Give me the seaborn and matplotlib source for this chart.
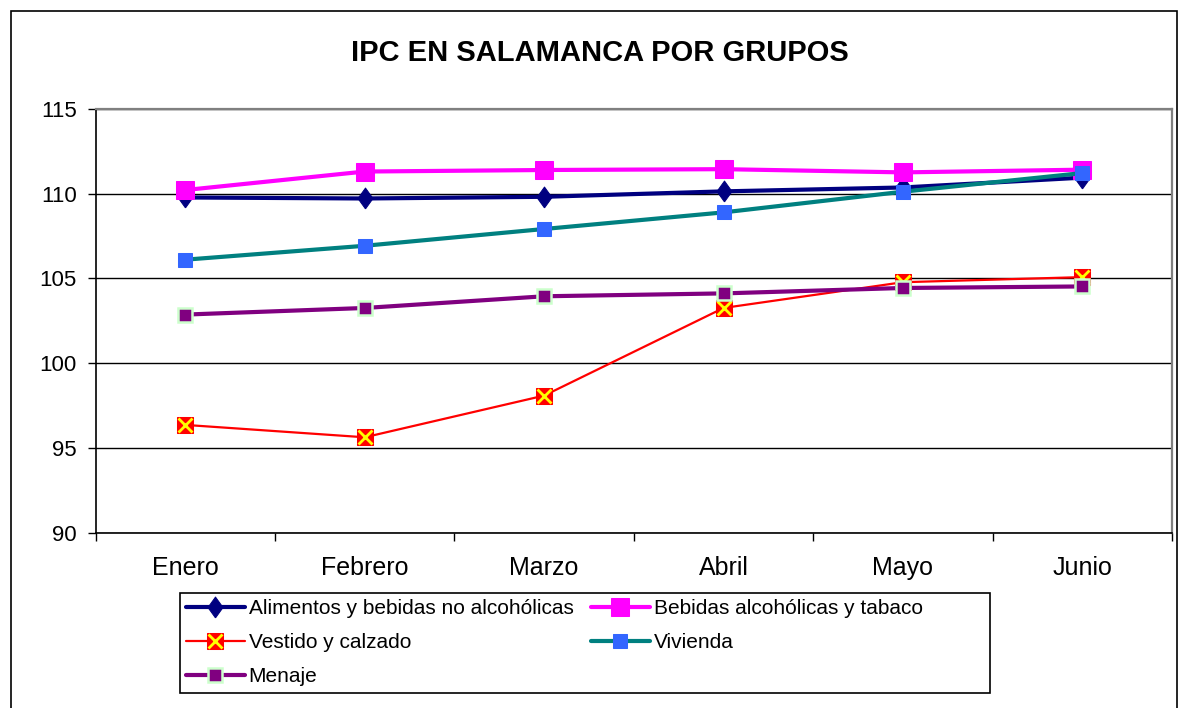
import matplotlib
matplotlib.use("Agg")
import matplotlib.pyplot as plt
import seaborn as sns
from matplotlib.patches import Rectangle
from matplotlib.legend_handler import HandlerTuple

# data
meses = ["Enero", "Febrero", "Marzo", "Abril", "Mayo", "Junio"]
alimentos = [109.78, 109.72, 109.82, 110.14, 110.37, 110.95]
bebidas = [110.22, 111.31, 111.40, 111.45, 111.26, 111.42]
vestido = [96.36, 95.63, 98.09, 103.26, 104.78, 105.08]
vivienda = [106.11, 106.93, 107.92, 108.90, 110.12, 111.22]
menaje = [102.87, 103.26, 103.95, 104.12, 104.44, 104.53]
y_ticks = [90, 95, 100, 105, 110, 115]

sns.set_theme(style="white")
plt.rcParams['font.family'] = ['Liberation Sans', 'DejaVu Sans']
plt.rcParams['text.color'] = 'black'
plt.rcParams['axes.labelcolor'] = 'black'

W, H = 1180, 708
fig = plt.figure(figsize=(11.8, 7.08), dpi=100)
ax = fig.add_axes([95.7 / W, 1 - 532.7 / H, (1172 - 95.7) / W, (532.7 - 109) / H])

# outer chart border
fig.patches.append(Rectangle((11 / W, -0.05), 1166 / W, 1.05 - 11 / H,
                             transform=fig.transFigure, fill=False,
                             edgecolor="black", linewidth=1.2, zorder=0))

diamond = [(0, -1), (0.72, 0), (0, 1), (-0.72, 0), (0, -1)]

series = [
    ("Alimentos y bebidas no alcohólicas", alimentos,
     dict(color="#000080", linewidth=3, marker=diamond, markersize=15,
          markerfacecolor="#000080", markeredgecolor="#000080")),
    ("Bebidas alcohólicas y tabaco", bebidas,
     dict(color="#FF00FF", linewidth=3, marker="s", markersize=13.5,
          markerfacecolor="#FF00FF", markeredgecolor="#FF00FF")),
    ("Vestido y calzado", vestido,
     dict(color="#FF0000", linewidth=1.6, marker="s", markersize=11,
          markerfacecolor="#FF0000", markeredgecolor="#FF0000")),
    ("Vivienda", vivienda,
     dict(color="#008080", linewidth=3, marker="s", markersize=10.5,
          markerfacecolor="#3366FF", markeredgecolor="#3366FF")),
    ("Menaje", menaje,
     dict(color="#800080", linewidth=3, marker="s", markersize=9.5,
          markerfacecolor="#800080", markeredgecolor="#CCFFCC",
          markeredgewidth=1.8)),
]

handles = {}
for name, vals, style in series:
    sns.lineplot(x=meses, y=vals, ax=ax, sort=False, label=name, **style)
    handles[name] = ax.lines[-1]
    if name == "Vestido y calzado":
        # yellow cross drawn over the red square
        sns.lineplot(x=meses, y=vals, ax=ax, sort=False, linestyle="none",
                     marker="x", markersize=10, markeredgecolor="#FFFF00",
                     markeredgewidth=2, color="#FFFF00")
        handles[name] = (handles[name], ax.lines[-1])

if ax.get_legend() is not None:
    ax.get_legend().remove()

ax.set_ylim(90, 115)
ax.set_xlim(-0.5, len(meses) - 0.5)
ax.set_yticks(y_ticks)
ax.set_xticks(range(len(meses)))
ax.set_xticklabels(meses)
ax.set_xticks([i - 0.5 for i in range(len(meses) + 1)], minor=True)
ax.set_xlabel("")
ax.set_ylabel("")

ax.yaxis.grid(True, color="black", linewidth=1)
ax.set_axisbelow(True)
ax.tick_params(axis="y", which="major", direction="out", length=6, width=1,
               color="black", left=True, labelsize=16, pad=7.5, labelcolor="black")
ax.tick_params(axis="x", which="major", length=0, labelsize=18, pad=17,
               labelcolor="black")
ax.tick_params(axis="x", which="minor", direction="out", length=6, width=1,
               color="black", bottom=True)

for side in ["top", "right"]:
    ax.spines[side].set_color("#808080")
    ax.spines[side].set_linewidth(1.6)
for side in ["left", "bottom"]:
    ax.spines[side].set_color("black")
    ax.spines[side].set_linewidth(1.2)

fig.text(600 / W, 1 - 53 / H, "IPC EN SALAMANCA POR GRUPOS",
         ha="center", va="center", fontsize=21, fontweight="bold")

# legend box is wider than its content, so draw the frame separately
fig.patches.append(Rectangle((180 / W, 1 - 693 / H), 810 / W, 100 / H,
                             transform=fig.transFigure, facecolor="white",
                             edgecolor="black", linewidth=1.2, zorder=1))

order = ["Alimentos y bebidas no alcohólicas", "Vestido y calzado", "Menaje",
         "Bebidas alcohólicas y tabaco", "Vivienda"]
leg = fig.legend([handles[n] for n in order], order, ncol=2,
                 loc="upper left", bbox_to_anchor=(180 / W, 1 - 593 / H),
                 fontsize=15, frameon=False, handlelength=2.8,
                 handletextpad=0.2, columnspacing=0.85, labelspacing=0.72,
                 borderpad=0.3, borderaxespad=0,
                 handler_map={tuple: HandlerTuple(ndivide=1, pad=0)})
leg.set_zorder(2)

fig.savefig("out.png", dpi=100)
